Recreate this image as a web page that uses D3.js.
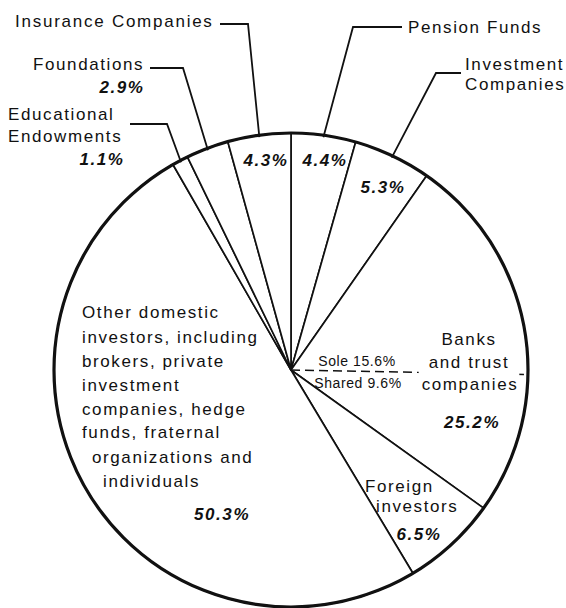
<!DOCTYPE html>
<html>
<head>
<meta charset="utf-8">
<script src="https://cdn.jsdelivr.net/npm/d3@7"></script>
<style>
  body { margin: 0; background: #fff; }
  text { font-family: "Liberation Sans", Arial, sans-serif; fill: #111; }
</style>
</head>
<body>
<figure style="margin:0"></figure>
<script>
// slices clockwise from 12 o'clock
const categories = [
  "Pension Funds", "Investment Companies", "Banks and trust companies",
  "Foreign investors", "Other domestic investors", "Educational Endowments",
  "Foundations", "Insurance Companies"
];
const shares = [4.4, 5.3, 25.2, 6.5, 50.3, 1.1, 2.9, 4.3];
const bankParts = ["Sole", "Shared"];
const bankShares = [15.6, 9.6];

(() => {
  const width = 566;
  const height = 608;
  const cx = 291, cy = 370, radius = 237;

  const svg = d3.select('figure').append('svg')
    .attr('width', width)
    .attr('height', height)
    .style('display', 'block');

  const g = svg.append('g').attr('transform', 'translate(' + cx + ',' + cy + ')');

  const pie = d3.pie().sort(null).value((d) => d.v);
  const slices = pie(categories.map((c, i) => ({c: c, v: shares[i]})));
  const arc = d3.arc().innerRadius(0).outerRadius(radius);

  g.selectAll('path.slice')
    .data(slices)
    .join('path')
      .attr('class', 'slice')
      .attr('d', arc)
      .attr('fill', '#fff')
      .attr('stroke', '#111')
      .attr('stroke-width', 1.7)
      .attr('stroke-linejoin', 'round');

  // banks split into sole / shared: dashed boundary
  const detail = shares.slice(0, 2).concat(bankShares).concat(shares.slice(3));
  const detailSlices = pie(detail.map((v) => ({v: v})));
  const soleEnd = detailSlices[2].endAngle;

  const pt = (a, r) => [cx + r * Math.sin(a), cy - r * Math.cos(a)];

  const top = svg.append('g');

  const dEnd = pt(soleEnd, radius);
  top.append('line')
    .attr('x1', cx).attr('y1', cy)
    .attr('x2', dEnd[0]).attr('y2', dEnd[1])
    .attr('stroke', '#111')
    .attr('stroke-width', 1.5)
    .attr('stroke-dasharray', '9,5');

  // outer rim
  svg.append('circle')
    .attr('cx', cx).attr('cy', cy)
    .attr('r', radius)
    .attr('fill', 'none')
    .attr('stroke', '#111')
    .attr('stroke-width', 3.2);

  const font = (sel, size, bold, ls) => sel
    .attr('font-size', size)
    .attr('letter-spacing', ls !== undefined ? ls : (size > 15 ? 1.6 : 0.6))
    .attr('font-weight', bold ? 'bold' : 'normal')
    .attr('font-style', bold ? 'italic' : 'normal');

  // label layout (page coordinates)
  const layout = [
    {lines: [['Pension Funds', 408, 33]], anchor: 'start', pct: [325, 166], elbow: [[402, 27], [353, 27]]},
    {lines: [['Investment', 465, 70], ['Companies', 465, 90]], anchor: 'start', pct: [383, 193], elbow: [[461, 73], [436, 73]]},
    {lines: [['Banks', 469, 345], ['and trust', 469, 368], ['companies', 470, 390]], anchor: 'middle', pct: [472, 428], mask: true},
    {lines: [['Foreign', 365, 492], ['investors', 376, 512]], anchor: 'start', pct: [419, 540]},
    {lines: [['Other domestic', 82, 318], ['investors, including', 82, 343], ['brokers, private', 82, 367],
             ['investment', 82, 391], ['companies, hedge', 82, 415], ['funds, fraternal', 82, 438],
             ['organizations and', 92, 463], ['individuals', 103, 487]], anchor: 'start', pct: [222, 520]},
    {lines: [['Educational', 8, 120], ['Endowments', 8, 142]], anchor: 'start', pct: [102, 165], elbow: [[130, 124], [167, 124]]},
    {lines: [['Foundations', 33, 70]], anchor: 'start', pct: [122, 93], elbow: [[150, 68], [183, 68]]},
    {lines: [['Insurance Companies', 15, 27]], anchor: 'start', pct: [266, 166], elbow: [[220, 24], [248, 24]], ls: 1.75}
  ];

  slices.forEach((s, i) => {
    const L = layout[i];
    if (L.elbow) {
      const mid = (s.startAngle + s.endAngle) / 2;
      const end = pt(mid, radius - 2);
      top.append('path')
        .attr('d', d3.line()(L.elbow.concat([end])))
        .attr('fill', 'none')
        .attr('stroke', '#111')
        .attr('stroke-width', 1.8);
    }
    const grp = top.append('g');
    const bg = L.mask ? grp.append('rect').attr('fill', '#fff') : null;
    L.lines.forEach((ln) => {
      grp.append('text')
        .attr('x', ln[1])
        .attr('y', ln[2])
        .attr('text-anchor', L.anchor)
        .call(font, 17, false, L.ls)
        .text(ln[0]);
    });
    if (bg) {
      const b = grp.node().getBBox();
      bg.attr('x', b.x - 3).attr('y', b.y).attr('width', b.width + 4).attr('height', b.height);
    }
    top.append('text')
      .attr('x', L.pct[0])
      .attr('y', L.pct[1])
      .attr('text-anchor', 'middle')
      .call(font, 17, true)
      .text(d3.format('.1f')(shares[i]) + '%');
  });

  // sole / shared labels
  const subPos = [[357, 366], [358, 388]];
  bankParts.forEach((p, i) => {
    top.append('text')
      .attr('x', subPos[i][0])
      .attr('y', subPos[i][1])
      .attr('text-anchor', 'middle')
      .call(font, 14, false)
      .text(p + ' ' + d3.format('.1f')(bankShares[i]) + '%');
  });
})();
</script>
</body>
</html>
